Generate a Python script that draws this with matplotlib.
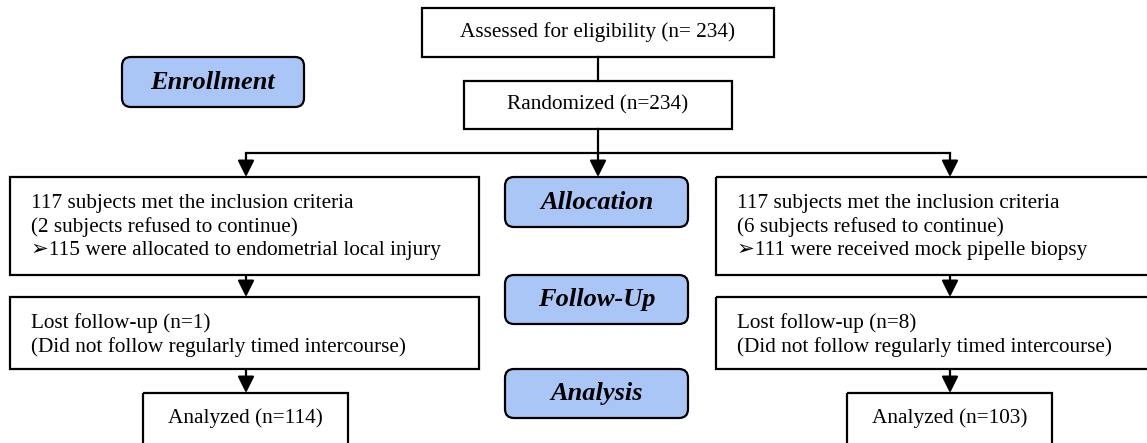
import matplotlib
matplotlib.use("Agg")
import matplotlib.pyplot as plt
from matplotlib.patches import Rectangle, FancyBboxPatch

plt.rcParams['font.family'] = ['Liberation Serif', 'DejaVu Sans']

# --- texte des boites ---
top_text = "Assessed for eligibility (n= 234)"
rand_text = "Randomized (n=234)"
left_texts = [
    "117 subjects met the inclusion criteria\n(2 subjects refused to continue)\n\u27a2115 were allocated to endometrial local injury",
    "Lost follow-up (n=1)\n(Did not follow regularly timed intercourse)",
    "Analyzed (n=114)",
]
right_texts = [
    "117 subjects met the inclusion criteria\n(6 subjects refused to continue)\n\u27a2111 were received mock pipelle biopsy",
    "Lost follow-up (n=8)\n(Did not follow regularly timed intercourse)",
    "Analyzed (n=103)",
]
stages = ["Enrollment", "Allocation", "Follow-Up", "Analysis"]

W, H = 1147, 443
fig = plt.figure(figsize=(W / 100, H / 100), dpi=100)
ax = fig.add_axes([0, 0, 1, 1])
ax.set_xlim(0, W)
ax.set_ylim(H, 0)
ax.axis('off')

FS = 15.3
LS = 1.25
LW = 1.6
XC = 598  # axe central


def box(x0, y0, x1, y1, text, ha='center', pad=21, ty=None):
    ax.add_patch(Rectangle((x0, y0), x1 - x0, y1 - y0, fill=False, ec='black', lw=LW))
    if ty is None:
        ty = (y0 + y1) / 2
    if ha == 'center':
        ax.text((x0 + x1) / 2, ty, text, ha='center', va='center', fontsize=FS, linespacing=LS)
    else:
        ax.text(x0 + pad, ty, text, ha='left', va='center', fontsize=FS, linespacing=LS)


def pill(x0, y0, x1, y1, text):
    ax.add_patch(FancyBboxPatch((x0, y0), x1 - x0, y1 - y0,
                                boxstyle="round,pad=0,rounding_size=9",
                                fc='#a9c6f7', ec='black', lw=LW))
    ax.text((x0 + x1) / 2, (y0 + y1) / 2, text, ha='center', va='center',
            fontsize=19, fontweight='bold', fontstyle='italic')


def arrow(x, y0, y1):
    ax.annotate('', xy=(x, y1), xytext=(x, y0),
                arrowprops=dict(arrowstyle='-|>,head_length=1.0,head_width=0.5',
                                color='black', lw=LW, shrinkA=0, shrinkB=0))


# haut
box(422, 8, 774, 57, top_text)
box(464, 81, 732, 129, rand_text)
ax.plot([XC, XC], [57, 81], color='black', lw=LW)
ax.plot([XC, XC], [129, 153], color='black', lw=LW)
ax.plot([246, 950], [153, 153], color='black', lw=LW)
arrow(246, 153, 177)
arrow(XC, 153, 177)
arrow(950, 153, 177)

# colonne gauche
box(10, 177, 479, 275, left_texts[0], ha='left', ty=227)
arrow(246, 275, 297)
box(10, 297, 479, 369, left_texts[1], ha='left', ty=335)
arrow(246, 369, 393)
box(143, 393, 348, 470, left_texts[2], ty=418)

# colonne droite
box(716, 177, 1160, 275, right_texts[0], ha='left', ty=227)
arrow(950, 275, 297)
box(716, 297, 1160, 369, right_texts[1], ha='left', ty=335)
arrow(950, 369, 393)
box(847, 393, 1052, 470, right_texts[2], ty=418)

# etapes
pill(122, 57, 304, 107, stages[0])
pill(505, 177, 688, 227, stages[1])
pill(505, 275, 688, 324, stages[2])
pill(505, 369, 688, 418, stages[3])

fig.savefig('out.png', dpi=100)
